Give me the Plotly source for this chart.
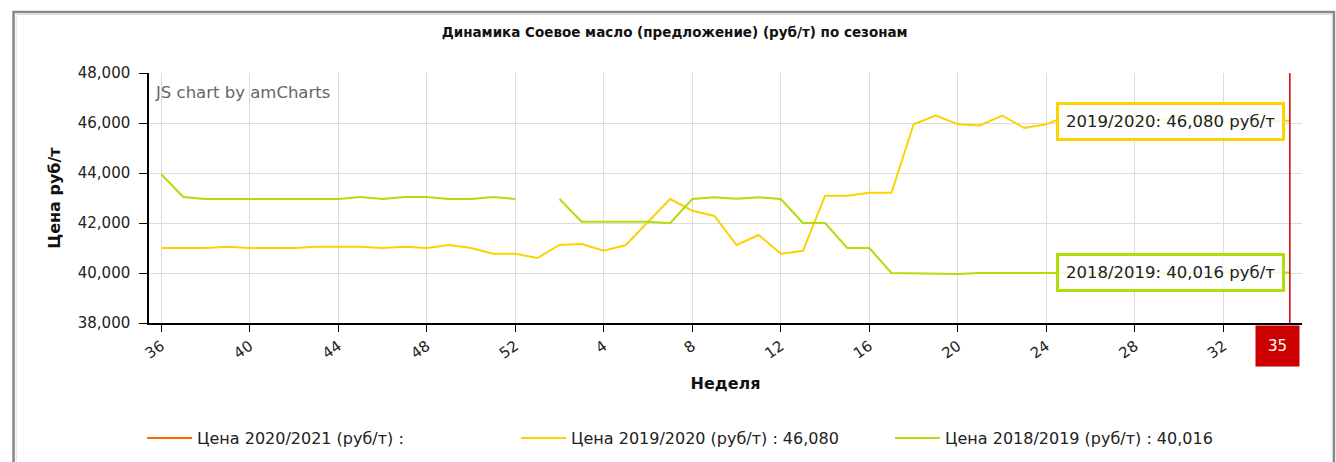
import plotly.graph_objects as go

weeks = [str(w) for w in list(range(36, 53)) + list(range(1, 36))]

tick_labels = ["36", "40", "44", "48", "52", "4", "8", "12", "16", "20", "24", "28", "32"]

price_2020_2021 = [None] * 52

price_2019_2020 = [
    41000, 41000, 41000, 41050, 41000, 41000, 41000, 41050, 41050, 41050,
    41000, 41050, 41000, 41120, 41000, 40770, 40770,
    40600, 41120, 41160, 40890, 41120, 42050, 42960, 42490, 42280,
    41120, 41520, 40770, 40890, 43090, 43090, 43210, 43210, 45950, 46300,
    45950, 45900, 46300, 45800, 45950, 46300, 46100, 46000, 46050, 46100,
    46300, 46100, 46050, 46080, 46080, 46080,
]

price_2018_2019 = [
    43950, 43040, 42960, 42960, 42960, 42960, 42960, 42960, 42960, 43040,
    42960, 43040, 43040, 42960, 42960, 43040, 42960,
    None, 42960, 42050, 42050, 42050, 42050, 41990, 42960, 43030,
    42970, 43030, 42960, 42000, 42000, 41000, 41000, 40000, 39980, 39960,
    39960, 40000, 40000, 39970, 39970, 39980, 40000, 40000, 40016, 40000,
    40000, 40016, 40016, 40016, 40016, 40016,
]

last_week = weeks[-1]
last_idx = weeks.index(last_week)
val_1920 = price_2019_2020[-1]
val_1819 = price_2018_2019[-1]

C_ORANGE = "#FF6600"
C_YELLOW = "#FCD202"
C_GREEN = "#B0DE09"
FONT = "DejaVu Sans"

fig = go.Figure()
fig.add_trace(go.Scatter(x=weeks, y=price_2020_2021, mode="lines",
                         name="Цена 2020/2021 (руб/т) :",
                         line=dict(color=C_ORANGE, width=2)))
fig.add_trace(go.Scatter(x=weeks, y=price_2019_2020, mode="lines",
                         name=f"Цена 2019/2020 (руб/т) : {val_1920:,}",
                         line=dict(color=C_YELLOW, width=2)))
fig.add_trace(go.Scatter(x=weeks, y=price_2018_2019, mode="lines",
                         name=f"Цена 2018/2019 (руб/т) : {val_1819:,}",
                         line=dict(color=C_GREEN, width=2), connectgaps=False))

# cursor line
fig.add_shape(type="line", xref="x", yref="paper", x0=last_idx, x1=last_idx,
              y0=0, y1=1, line=dict(color="#CC0000", width=1.5))

# frame
fig.add_shape(type="rect", xref="paper", yref="paper",
              x0=-0.1175, x1=1.0277, y0=-1, y1=1.244,
              line=dict(color="#888888", width=2.5), layer="below")
fig.add_shape(type="rect", xref="paper", yref="paper",
              x0=-0.1152, x1=1.0262, y0=-1, y1=1.234,
              line=dict(color="#dddddd", width=1), layer="below")

annotations = [
    dict(text="JS chart by amCharts", xref="paper", yref="paper", x=0, y=1,
         xanchor="left", yanchor="top", xshift=4, yshift=-8, showarrow=False,
         font=dict(family=FONT, size=16.5, color="#666666")),
    dict(text=f"2019/2020: {val_1920:,} руб/т", x=last_idx, y=val_1920,
         xanchor="right", yanchor="middle", xshift=-5, showarrow=False,
         bgcolor="rgba(255,255,255,0.85)", bordercolor=C_YELLOW, borderwidth=3,
         borderpad=7, font=dict(family=FONT, size=16.5, color="#222222")),
    dict(text=f"2018/2019: {val_1819:,} руб/т", x=last_idx, y=val_1819,
         xanchor="right", yanchor="middle", xshift=-5, showarrow=False,
         bgcolor="rgba(255,255,255,0.85)", bordercolor=C_GREEN, borderwidth=3,
         borderpad=7, font=dict(family=FONT, size=16.5, color="#222222")),
    dict(text=last_week, x=last_idx, y=0, yref="paper", xanchor="center",
         yanchor="top", xshift=-12, yshift=-2, showarrow=False,
         bgcolor="#CC0000", width=35, height=32, borderpad=4,
         font=dict(family=FONT, size=15, color="#ffffff")),
]

fig.update_layout(
    width=1336, height=462,
    margin=dict(l=149, r=34, t=73, b=139, autoexpand=False),
    paper_bgcolor="white", plot_bgcolor="white",
    title=dict(text="<b>Динамика Соевое масло (предложение) (руб/т) по сезонам</b>",
               x=0.505, xanchor="center", y=1 - 32 / 462, yanchor="middle",
               font=dict(family=FONT, size=13.5, color="#111111")),
    font=dict(family=FONT, size=14, color="#222222"),
    showlegend=True,
    legend=dict(orientation="h", x=-0.006, xanchor="left", y=-0.392, yanchor="top",
                itemwidth=45, entrywidth=314, entrywidthmode="pixels",
                font=dict(family=FONT, size=16, color="#222222")),
    annotations=annotations,
    hovermode="x",
)

fig.update_xaxes(type="category", categoryorder="array", categoryarray=weeks,
                 range=[-0.55, len(weeks) - 0.45], automargin=False,
                 tickmode="array", tickvals=tick_labels, ticktext=tick_labels,
                 tickangle=-35, ticks="outside", ticklen=7, tickcolor="#000",
                 showline=True, linecolor="#000", linewidth=1.5,
                 showgrid=True, gridcolor="#dcdcdc", gridwidth=1,
                 tickfont=dict(family=FONT, size=15),
                 title=dict(text="<b>Неделя</b>", standoff=16,
                            font=dict(family=FONT, size=16, color="#111")))
fig.update_yaxes(range=[38000, 48000], tickvals=[38000, 40000, 42000, 44000, 46000, 48000],
                 tickformat=",d", ticks="outside", ticklen=8, tickcolor="#000",
                 ticklabelstandoff=6, automargin=False,
                 showline=True, linecolor="#000", linewidth=1.5,
                 showgrid=True, gridcolor="#dcdcdc", gridwidth=1, zeroline=False,
                 tickfont=dict(family=FONT, size=15),
                 title=dict(text="<b>Цена руб/т</b>", standoff=13,
                            font=dict(family=FONT, size=16, color="#111")))

fig.write_html("out.html", config={"displayModeBar": False},
               post_script="document.body.style.margin='0px';")
